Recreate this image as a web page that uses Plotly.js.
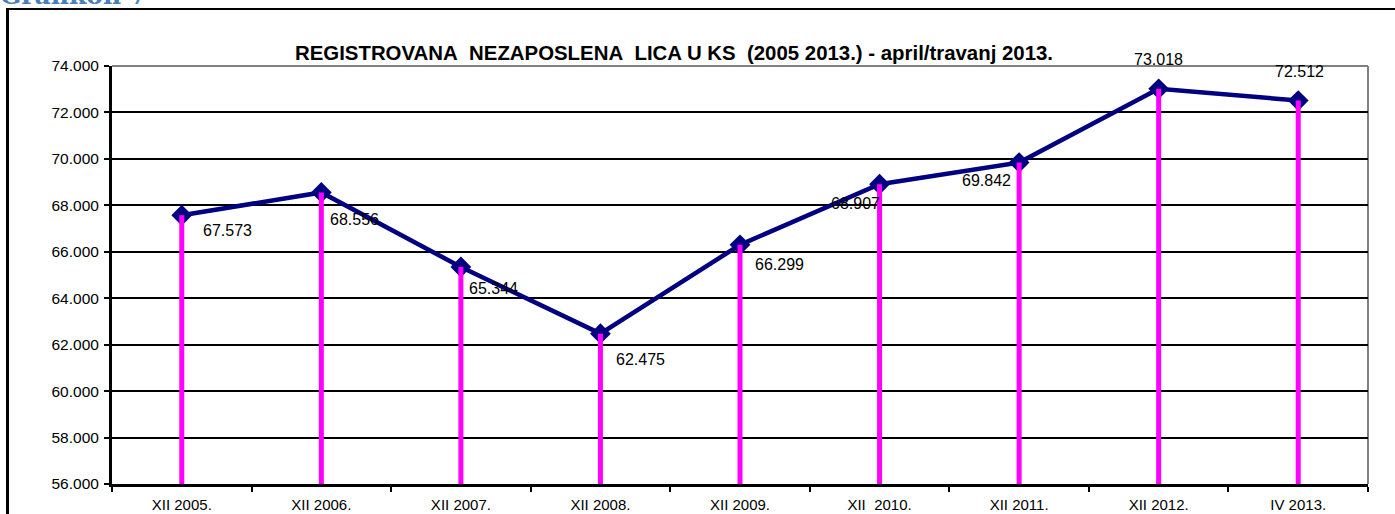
<!DOCTYPE html>
<html>
<head>
<meta charset="utf-8">
<script src="https://cdn.plot.ly/plotly-3.0.1.min.js"></script>
<style>
  html, body { margin: 0; padding: 0; width: 1395px; height: 514px; overflow: hidden; background: #fff; }
  #chart { position: absolute; left: 0; top: 0; width: 1395px; height: 514px; }
  #frame { position: absolute; left: 6px; top: 8px; width: 3000px; height: 3000px;
           border-left: 3px solid #000; border-top: 2px solid #000; pointer-events: none; }
  #cap { position: absolute; left: 0px; top: -17px; font-family: "DejaVu Serif", serif; font-weight: bold;
         font-size: 25px; line-height: 1; color: #4A7EBB; white-space: nowrap; }
</style>
</head>
<body>
<div id="chart"></div>
<div id="frame"></div>
<div id="cap">Grafikon 7</div>
<script>
// ---- data ----
const categories = ["XII 2005.", "XII 2006.", "XII 2007.", "XII 2008.", "XII 2009.",
                    "XII\u00A0 2010.", "XII 2011.", "XII 2012.", "IV 2013."];
const unemployed = [67573, 68556, 65344, 62475, 66299, 68907, 69842, 73018, 72512];
const yMin = 56000, yMax = 74000, yStep = 2000;

// label offsets (style only): [dx, dy] in pixels from the point
const labelOffsets = [[46, 15], [33, 27], [33, 21], [40, 26], [39, 20],
                      [-24, 19], [-33, 18], [0, -29], [1, -29]];

const fmt = v => String(v).replace(/\B(?=(\d{3})+(?!\d))/g, ".");

const lineTrace = {
  x: categories, y: unemployed, type: "scatter", mode: "lines+markers",
  line: { color: "#000080", width: 4.5 },
  marker: { symbol: "diamond", size: 16, color: "#000080" },
  hoverinfo: "skip", showlegend: false
};
const dropTrace = {
  x: categories, y: unemployed, type: "scatter", mode: "markers",
  marker: { size: 1, opacity: 0 },
  error_y: { type: "data", symmetric: false,
             array: unemployed.map(() => 0),
             arrayminus: unemployed.map(v => v - yMin),
             color: "#FF00FF", thickness: 5, width: 0 },
  hoverinfo: "skip", showlegend: false
};

const annotations = unemployed.map((v, i) => ({
  x: categories[i], y: v, xref: "x", yref: "y",
  text: fmt(v), showarrow: false,
  xshift: labelOffsets[i][0], yshift: -labelOffsets[i][1],
  xanchor: "center", yanchor: "middle",
  font: { family: "Liberation Sans, Arial, sans-serif", size: 16, color: "#000" }
}));

const layout = {
  width: 1395, height: 514,
  margin: { l: 112, r: 27, t: 66, b: 30, pad: 0 },
  paper_bgcolor: "rgba(0,0,0,0)", plot_bgcolor: "#fff",
  separators: ",.",
  font: { family: "Liberation Sans, Arial, sans-serif", color: "#000" },
  title: {
    text: "REGISTROVANA\u00A0 NEZAPOSLENA\u00A0 LICA U KS\u00A0 (2005 2013.) - april/travanj 2013.",
    font: { family: "Liberation Sans, Arial, sans-serif", size: 20.4, color: "#000", weight: "bold" },
    xref: "container", yref: "container", x: 674 / 1395, y: 1 - 53 / 514,
    xanchor: "center", yanchor: "middle"
  },
  xaxis: {
    type: "category", tickson: "boundaries", ticks: "outside", ticklen: 5, tickwidth: 2, tickcolor: "#000",
    showline: true, linecolor: "#000", linewidth: 3, showgrid: false, zeroline: false,
    ticklabelstandoff: 5,
    tickfont: { size: 15, color: "#000" }, range: [-0.5, categories.length - 0.5], fixedrange: true
  },
  yaxis: {
    range: [yMin, yMax], dtick: yStep, tick0: yMin, tickformat: ",d",
    ticks: "outside", ticklen: 5, tickwidth: 2, tickcolor: "#000",
    showline: true, linecolor: "#000", linewidth: 3,
    showgrid: true, gridcolor: "#000", gridwidth: 2, zeroline: false,
    ticklabelstandoff: 2,
    tickfont: { size: 15.5, color: "#000" }, fixedrange: true
  },
  shapes: [
    { type: "line", xref: "paper", yref: "paper", x0: 0, x1: 1, y0: 1, y1: 1,
      line: { color: "#808080", width: 2 }, layer: "above" },
    { type: "line", xref: "paper", yref: "paper", x0: 1, x1: 1, y0: 0, y1: 1,
      line: { color: "#808080", width: 2 }, layer: "below" }
  ],
  annotations: annotations,
  showlegend: false
};

Plotly.newPlot("chart", [lineTrace, dropTrace], layout, { displayModeBar: false, staticPlot: true });
</script>
</body>
</html>
